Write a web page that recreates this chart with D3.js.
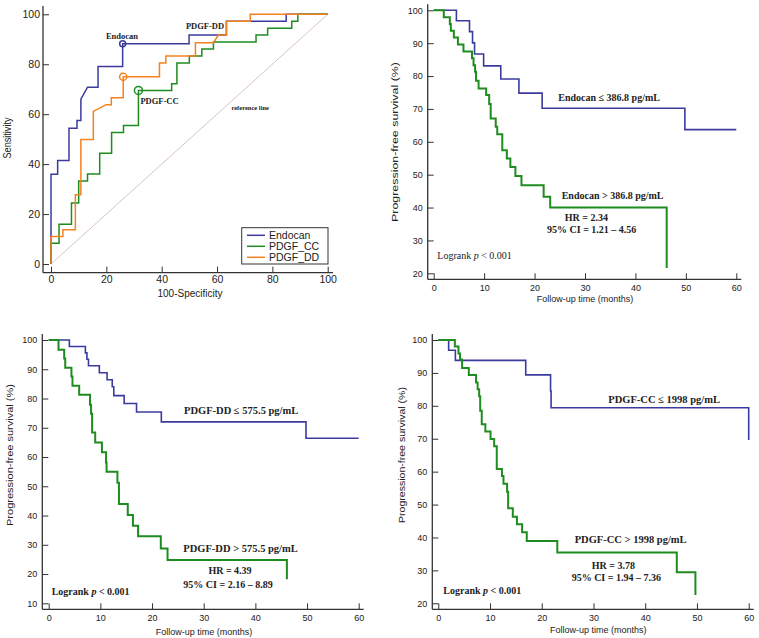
<!DOCTYPE html>
<html>
<head>
<meta charset="utf-8">
<script src="https://cdnjs.cloudflare.com/ajax/libs/d3/7.8.5/d3.min.js"></script>
<style>
body { margin:0; background:#fff; }
svg text { font-family:"Liberation Sans", Arial, sans-serif; fill:#222; }
svg text.ann { font-family:"Liberation Serif", "Times New Roman", serif; }
</style>
</head>
<body>
<svg id="fig" width="759" height="638"></svg>
<script>
// ---- ROC curves: [100-specificity, sensitivity] corner points ----
var rocEndocan = [[0,0],[0,35.9],[2.4,35.9],[2.4,41.5],[6.5,41.5],[6.5,54.4],[9.4,54.4],[9.4,57.5],[10.8,57.5],[10.8,66],[13.2,70.8],[17,70.8],[17,79.1],[25.9,79.1],[25.9,88.2],[49.9,88.2],[49.9,91.7],[63.4,91.7],[63.4,97.2],[85,97.2],[85,100],[100,100]];
var rocPdgfCC = [[0,0],[0,8.3],[2.9,8.3],[2.9,15.9],[7.4,15.9],[7.4,24.4],[10,24.4],[10,33.2],[13.2,33.2],[13.2,36],[17.6,36],[17.6,44.4],[21.9,44.4],[21.9,52.7],[26.2,52.7],[26.2,55.5],[31.6,55.5],[31.6,69.5],[43.6,69.5],[43.6,72.2],[45.5,72.2],[45.5,80.5],[50,80.5],[50,83.3],[54.5,83.3],[54.5,86.1],[58.7,86.1],[58.7,88.9],[74.1,88.9],[74.1,91.7],[78.3,91.7],[78.3,94.4],[87,94.4],[87,97.2],[89.2,97.2],[89.2,100],[100,100]];
var rocPdgfDD = [[0,0],[0,11],[4.3,11],[4.3,13.7],[8.8,13.7],[8.8,27.7],[10.8,27.7],[10.8,49.9],[15.3,49.9],[15.3,61.1],[19.9,63.8],[21.8,63.8],[21.8,66.6],[26.1,66.6],[26.1,75],[39.2,75],[39.2,80.5],[41.5,80.5],[41.5,83.3],[52.2,83.3],[52.2,88.6],[58.7,88.6],[60.5,91.7],[63.4,91.7],[63.4,97.2],[72,97.2],[72,100],[100,100]];
var rocCutEndocan = [25.9, 88.2];
var rocCutPdgfCC = [31.6, 69.5];
var rocCutPdgfDD = [26.1, 75];
var rocTicks = [0,20,40,60,80,100];
var rocLegend = ["Endocan", "PDGF_CC", "PDGF_DD"];

// ---- Kaplan-Meier: step times (months) and survival (%) ----
var kmEndoLowT = [0,4.5,7.1,7.7,8.1,9.9,13.3,16.9,21.5,49.8,60];
var kmEndoLowS = [100,96.8,93.5,90.1,86.7,83.1,79.1,74.8,70.2,63.7,63.7];
var kmEndoHighT = [0,2.0,3.2,3.4,4.0,4.8,5.9,7.6,7.9,8.2,8.4,8.9,10.4,11.0,11.3,12.3,12.6,13.6,14.5,15.2,16.2,17.4,21.8,23.1,46.2];
var kmEndoHighS = [100,97.9,95.8,93.8,91.7,89.6,87.5,85.4,83.3,81.3,78.6,76.2,74.2,71.5,67.1,64.6,62.3,57.4,54.9,52.3,49.6,46.8,43.3,40.0,21.6];

var kmDDLowT = [0,4.0,7.1,7.4,7.7,9.8,11.3,12.3,12.6,14.6,17.0,21.8,49.8,60];
var kmDDLowS = [100,97.8,95.6,93.4,91.2,88.8,86.4,84.0,81.0,78.3,75.4,72.0,66.4,66.4];
var kmDDHighT = [0,1.9,3.0,3.2,4.4,4.6,5.9,8.0,8.2,8.4,9.0,10.3,11.1,11.2,13.3,13.6,15.3,16.3,17.3,21.7,23.0,46.1];
var kmDDHighS = [100,96.7,93.7,90.5,87.5,84.4,81.3,77.9,74.8,68.4,65.0,61.6,58.1,55.0,51.2,43.9,40.2,36.5,32.9,28.7,24.8,18.2];

var kmCCLowT = [0,2.0,3.3,16.9,21.7,21.8,60];
var kmCCLowS = [100,96.9,93.8,89.4,84.5,79.4,69.6];
var kmCCHighT = [0,3.2,3.9,4.2,4.6,5.9,7.3,7.6,7.9,8.1,8.4,9.1,10.1,10.8,11.3,12.3,12.6,13.3,13.5,14.4,15.2,16.2,17.1,23.0,46.1,49.7];
var kmCCHighS = [100,98.0,95.9,94.1,91.5,89.4,87.1,85.0,82.9,78.5,74.4,72.2,69.9,67.7,60.8,58.7,56.3,53.9,48.9,46.3,44.0,41.6,38.9,35.4,29.4,22.5];

var kmXTicks = [0,10,20,30,40,50,60];

var cBlue = "#3b3b9e", cGreen = "#1f8c1f", cOrange = "#f5821f";
var svg = d3.select("#fig");

// draws offset axes with inward ticks (MedCalc style)
function drawAxes(x, y, ax, ay, xMaj, yMaj, xEnd, yEnd, fs, pad) {
  var xMin = d3.range(x.domain()[0], x.domain()[1] + 0.1, 5);
  var yMin = d3.range(y.domain()[0], y.domain()[1] + 0.1, 5);
  var gx = svg.append("g").attr("transform", "translate(0," + ay + ")");
  gx.call(d3.axisBottom(x).tickValues(xMin).tickSize(-3).tickFormat(""));
  gx.call(d3.axisBottom(x).tickValues(xMaj).tickSize(-6).tickPadding(pad));
  var gy = svg.append("g").attr("transform", "translate(" + ax + ",0)");
  gy.call(d3.axisLeft(y).tickValues(yMin).tickSize(-3).tickFormat(""));
  gy.call(d3.axisLeft(y).tickValues(yMaj).tickSize(-6).tickPadding(pad));
  svg.selectAll(".domain").remove();
  [gx, gy].forEach(function(g) {
    g.selectAll("line").attr("stroke", "#333");
    g.selectAll("text").style("font-size", fs + "px").attr("fill", "#222");
  });
  gy.selectAll(".tick text").attr("x", -pad);
  svg.append("line").attr("x1", ax).attr("x2", xEnd).attr("y1", ay).attr("y2", ay)
     .attr("stroke", "#333").attr("stroke-width", 1.3);
  svg.append("line").attr("x1", ax).attr("x2", ax).attr("y1", ay).attr("y2", yEnd)
     .attr("stroke", "#333").attr("stroke-width", 1.3);
}

function ylabel(txt, cx, cy, len, fs) {
  svg.append("text").attr("transform", "translate(" + cx + "," + cy + ") rotate(-90)")
     .attr("text-anchor", "middle").attr("dy", "0.35em")
     .attr("textLength", len).attr("lengthAdjust", "spacingAndGlyphs")
     .style("font-size", fs + "px").text(txt);
}

function ann(txt, x, y, fs, bold, anchor) {
  return svg.append("text").attr("class", "ann").attr("x", x).attr("y", y)
     .attr("text-anchor", anchor || "start")
     .style("font-size", fs + "px").style("font-weight", bold ? "bold" : "normal")
     .text(txt);
}

function logrank(x, y, fs, bold) {
  var t = ann("Logrank ", x, y, fs, bold);
  t.append("tspan").style("font-style", "italic").text("p");
  t.append("tspan").text(" < 0.001");
}

// ---------------- ROC panel ----------------
(function() {
  var x = d3.scaleLinear().domain([0,100]).range([51, 327.7]);
  var y = d3.scaleLinear().domain([0,100]).range([264, 14.3]);
  drawAxes(x, y, 43, 272.7, rocTicks, rocTicks, 333, 6, 10.5, 3);

  svg.append("line").attr("x1", x(0)).attr("y1", y(0)).attr("x2", x(100)).attr("y2", y(100))
     .attr("stroke", "#d9c3c3").attr("stroke-width", 1);
  ann("reference line", x(72), y(61.5), 6.5, true, "middle").attr("fill", "#333");

  var line = d3.line().x(function(d){ return x(d[0]); }).y(function(d){ return y(d[1]); });
  [[rocEndocan, cBlue], [rocPdgfCC, cGreen], [rocPdgfDD, cOrange]].forEach(function(s) {
    svg.append("path").datum(s[0]).attr("d", line).attr("fill", "none")
       .attr("stroke", s[1]).attr("stroke-width", 1.5);
  });
  [[rocCutEndocan, cBlue, 3], [rocCutPdgfDD, cOrange, 3.6], [rocCutPdgfCC, cGreen, 4]].forEach(function(c) {
    svg.append("circle").attr("cx", x(c[0][0])).attr("cy", y(c[0][1])).attr("r", c[2])
       .attr("fill", "none").attr("stroke", c[1]).attr("stroke-width", 1.5);
  });
  ann("Endocan", 122, 39, 8.5, true, "middle").attr("fill", "#6a6ab0");
  ann("PDGF-DD", 205, 29, 8.5, true, "middle").attr("fill", cOrange);
  ann("PDGF-CC", 159.5, 104, 8.5, true, "middle").attr("fill", cGreen);

  svg.append("text").attr("x", 190).attr("y", 297).attr("text-anchor", "middle")
     .style("font-size", "10px").text("100-Specificity");
  ylabel("Sensitivity", 7, 138, 41, 10);

  // legend
  var lg = svg.append("g");
  lg.append("rect").attr("x", 241.7).attr("y", 227.7).attr("width", 86.3).attr("height", 36.3)
    .attr("fill", "#fff").attr("stroke", "#333").attr("stroke-width", 1);
  [cBlue, cGreen, cOrange].forEach(function(col, i) {
    var yy = 235.3 + i * 11;
    lg.append("line").attr("x1", 247).attr("x2", 265).attr("y1", yy).attr("y2", yy)
      .attr("stroke", col).attr("stroke-width", 1.5);
    lg.append("text").attr("x", 269).attr("y", yy).attr("dy", "0.35em")
      .style("font-size", "10.5px").text(rocLegend[i]);
  });
})();

// ---------------- Kaplan-Meier panels ----------------
function kmPanel(o) {
  var x = d3.scaleLinear().domain([0,60]).range([o.x0, o.x1]);
  var y = d3.scaleLinear().domain([o.ymin,100]).range([o.y0, o.y1]);
  var yTicks = d3.range(o.ymin, 100.1, 10);
  drawAxes(x, y, o.ax, o.ay, kmXTicks, yTicks, x(60) + 5, o.y1 - 6, 9, 5);

  var line = d3.line().curve(d3.curveStepAfter)
    .x(function(d){ return x(d[0]); }).y(function(d){ return y(d[1]); });
  svg.append("path").datum(d3.zip(o.lowT, o.lowS)).attr("d", line)
     .attr("fill", "none").attr("stroke", cBlue).attr("stroke-width", 1.6);
  svg.append("path").datum(d3.zip(o.highT, o.highS)).attr("d", line)
     .attr("fill", "none").attr("stroke", cGreen).attr("stroke-width", 2);

  svg.append("text").attr("x", o.xlx).attr("y", o.xly).attr("text-anchor", "middle")
     .style("font-size", "9px").text("Follow-up time (months)");
  ylabel("Progression-free survival (%)", o.ylx, o.yly, o.ylen, 9);
}

kmPanel({x0:433.7, x1:736.3, ymin:20, y0:273.3, y1:10.3, ax:427.7, ay:279.3,
  lowT:kmEndoLowT, lowS:kmEndoLowS, highT:kmEndoHighT, highS:kmEndoHighS,
  xlx:585, xly:301.5, ylx:395, yly:142, ylen:160});
ann("Endocan \u2264 386.8 pg/mL", 558.3, 101, 10, true);
ann("Endocan > 386.8 pg/mL", 561.7, 199, 10, true);
ann("HR = 2.34", 586.3, 221, 10, true, "middle");
ann("95% CI = 1.21 \u2013 4.56", 591.7, 232.5, 10, true, "middle");
logrank(437.3, 258.5, 10, false);

kmPanel({x0:48.7, x1:358.7, ymin:10, y0:603.3, y1:340, ax:42.3, ay:609.3,
  lowT:kmDDLowT, lowS:kmDDLowS, highT:kmDDHighT, highS:kmDDHighS,
  xlx:204, xly:634.5, ylx:10, yly:455, ylen:142});
ann("PDGF-DD \u2264 575.5 pg/mL", 184, 413.5, 10.5, true);
ann("PDGF-DD > 575.5 pg/mL", 183.3, 552, 10.5, true);
ann("HR = 4.39", 230, 573.5, 10, true, "middle");
ann("95% CI = 2.16 \u2013 8.89", 228, 588, 10, true, "middle");
logrank(51.7, 595, 10, true);

kmPanel({x0:438.3, x1:748.7, ymin:20, y0:603.3, y1:340, ax:432.3, ay:609.3,
  lowT:kmCCLowT, lowS:kmCCLowS, highT:kmCCHighT, highS:kmCCHighS,
  xlx:598.3, xly:632.5, ylx:401.7, yly:455, ylen:136});
ann("PDGF-CC \u2264 1998 pg/mL", 608.3, 403, 10.5, true);
ann("PDGF-CC > 1998 pg/mL", 574.7, 543, 10.5, true);
ann("HR = 3.78", 613.3, 568.5, 10, true, "middle");
ann("95% CI = 1.94 \u2013 7.36", 616.3, 581, 10, true, "middle");
logrank(443.3, 594, 10, true);
</script>
</body>
</html>
